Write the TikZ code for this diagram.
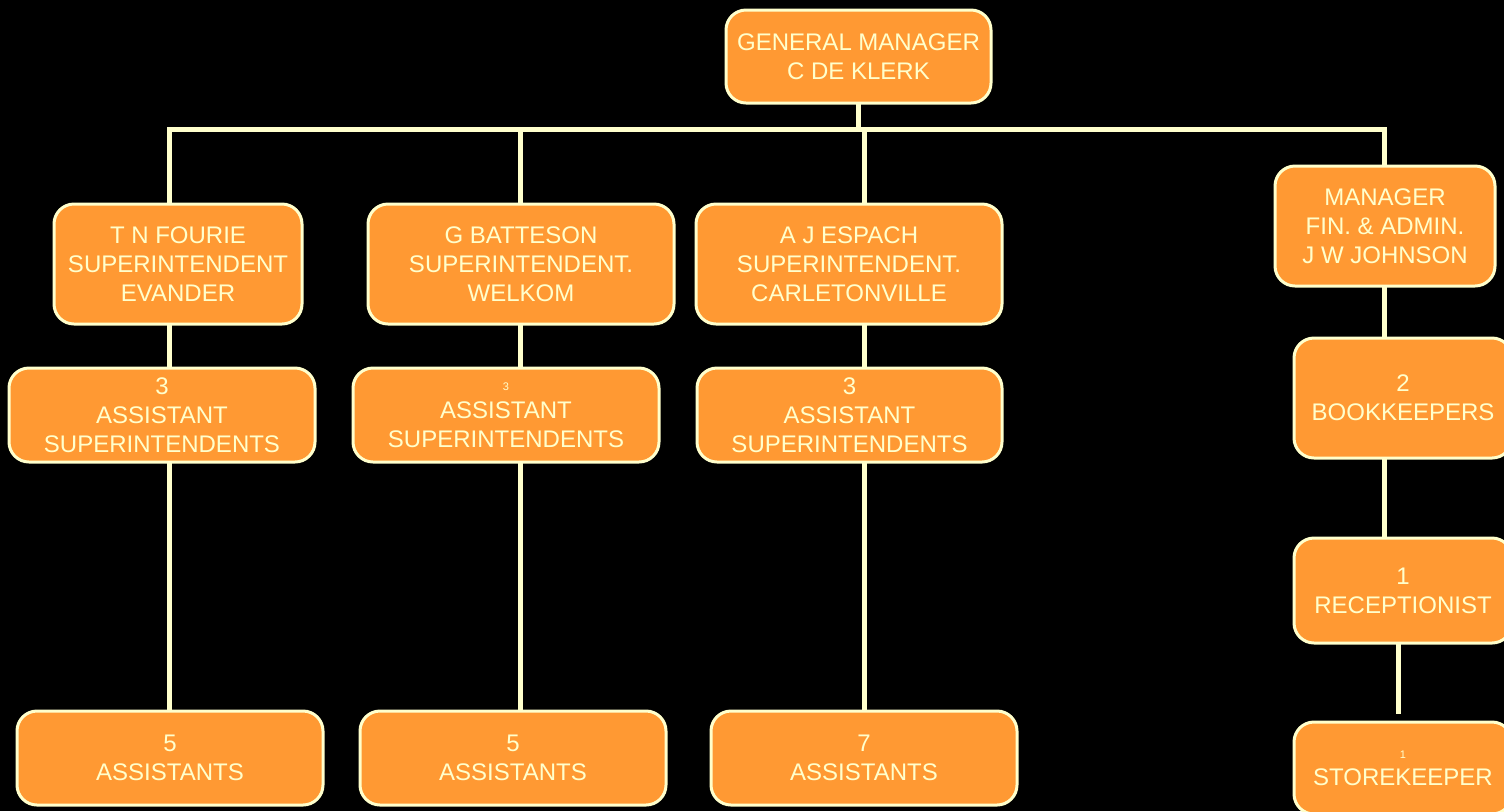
\documentclass[tikz,border=0pt]{standalone}
\usepackage{fontspec}
\setmainfont{Liberation Sans}
\definecolor{boxfill}{HTML}{FF9933}
\definecolor{pale}{HTML}{FFFFCC}
\newcommand{\tinynum}[1]{{\fontsize{5.5}{6}\selectfont #1}}
\begin{document}
\begin{tikzpicture}[x=0.5pt,y=-0.5pt,
  box/.style={draw=pale, fill=boxfill, line width=1.5pt, rounded corners=10pt,
    text=pale, align=center, inner sep=0pt, outer sep=0pt,
    font=\fontsize{12}{14.5}\selectfont},
  link/.style={draw=pale, line width=2.5pt, line join=miter}]
\fill[black] (0,0) rectangle (1504,811);
\useasboundingbox (0,0) rectangle (1504,811);
% nodes
\node[box, minimum width=132.5pt, minimum height=46.5pt] (gm) at (858.5,56.5) {GENERAL MANAGER\\C DE KLERK};
\node[box, minimum width=124pt, minimum height=60pt] (fourie) at (178,264) {T N FOURIE\\SUPERINTENDENT\\EVANDER};
\node[box, minimum width=153pt, minimum height=60pt] (batteson) at (521,264) {G BATTESON\\SUPERINTENDENT.\\WELKOM};
\node[box, minimum width=153pt, minimum height=60pt] (espach) at (849,264) {A J ESPACH\\SUPERINTENDENT.\\CARLETONVILLE};
\node[box, minimum width=110pt, minimum height=60pt] (johnson) at (1385,226) {MANAGER\\FIN. \& ADMIN.\\J W JOHNSON};
\node[box, minimum width=153pt, minimum height=47pt] (as1) at (162,415) {3\\ASSISTANT\\SUPERINTENDENTS};
\node[box, minimum width=153pt, minimum height=47pt] (as2) at (506,415) {\tinynum{3}\\[-0.5pt]ASSISTANT\\SUPERINTENDENTS};
\node[box, minimum width=152.5pt, minimum height=47pt] (as3) at (849.5,415) {3\\ASSISTANT\\SUPERINTENDENTS};
\node[box, minimum width=153pt, minimum height=47pt] (a1) at (170,758) {5\\ASSISTANTS};
\node[box, minimum width=153pt, minimum height=47pt] (a2) at (513,758) {5\\ASSISTANTS};
\node[box, minimum width=153pt, minimum height=47pt] (a3) at (864,758) {7\\ASSISTANTS};
\node[box, minimum width=109pt, minimum height=60pt] (book) at (1403,398) {2\\BOOKKEEPERS};
\node[box, minimum width=109pt, minimum height=52.5pt] (recep) at (1403,590.5) {1\\RECEPTIONIST};
\node[box, minimum width=109pt, minimum height=46pt] (store) at (1403,768) {\tinynum{1}\\[-1pt]STOREKEEPER};
% connectors
\coordinate (j1) at (169,129);
\coordinate (j2) at (520,129);
\coordinate (j3) at (864,129);
\coordinate (j4) at (1384,129);
\coordinate (s1) at (1398,714);
\draw[link] (j1 |- fourie.north) -- (j1) -- (j4) -- (j4 |- johnson.north);
\draw[link] (gm.south) -- (gm.south |- j1);
\draw[link] (j2) -- (j2 |- batteson.north);
\draw[link] (j3) -- (j3 |- espach.north);
\draw[link] (j1 |- fourie.south) -- (j1 |- as1.north);
\draw[link] (j1 |- as1.south) -- (j1 |- a1.north);
\draw[link] (j2 |- batteson.south) -- (j2 |- as2.north);
\draw[link] (j2 |- as2.south) -- (j2 |- a2.north);
\draw[link] (j3 |- espach.south) -- (j3 |- as3.north);
\draw[link] (j3 |- as3.south) -- (j3 |- a3.north);
\draw[link] (j4 |- johnson.south) -- (j4 |- book.north);
\draw[link] (j4 |- book.south) -- (j4 |- recep.north);
\draw[link] (s1 |- recep.south) -- (s1);
\end{tikzpicture}
\end{document}
